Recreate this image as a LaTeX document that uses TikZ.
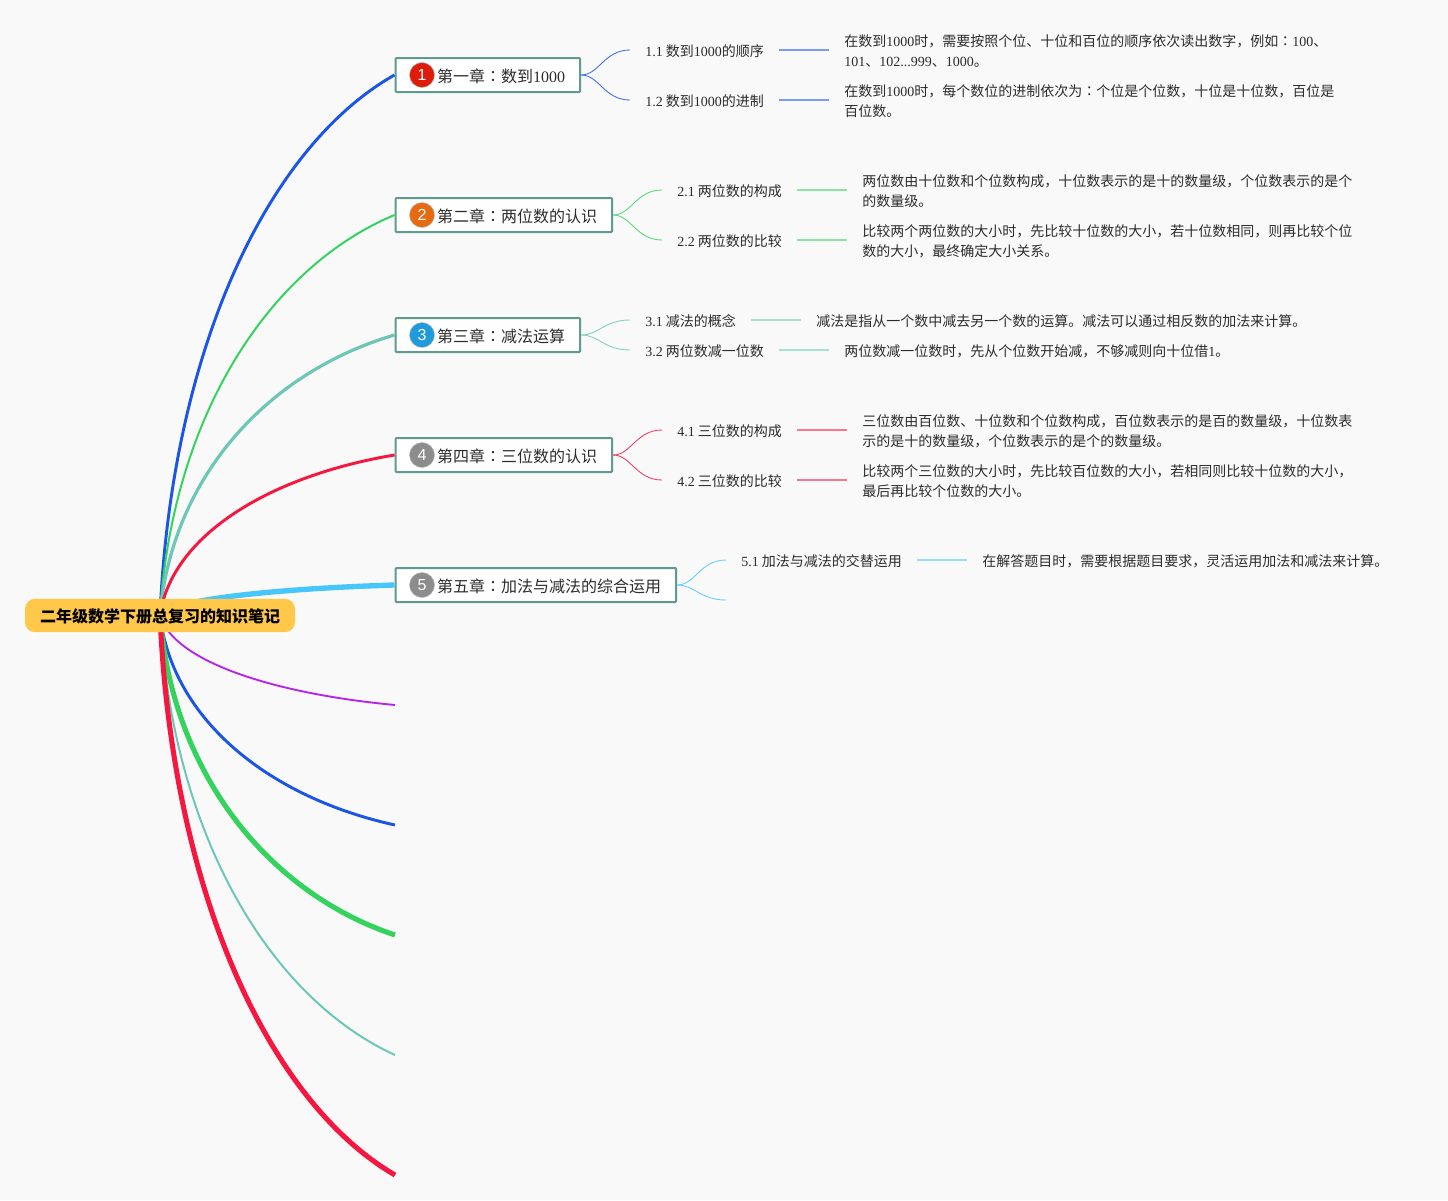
\documentclass[tikz,border=0pt]{standalone}
\usepackage{fontspec}
\usetikzlibrary{calc}
\setmainfont{Noto Sans CJK SC}
\newfontfamily\latfont{Liberation Serif}
\newfontfamily\badgefont{Liberation Sans}
\newfontfamily\tcfont{Noto Sans CJK TC}
\newcommand{\lat}[1]{{\latfont #1}}
\newcommand{\cln}{{\tcfont ：}}
\definecolor{paper}{HTML}{F9F9FA}
\definecolor{rootfill}{HTML}{FFC84A}
\definecolor{boxline}{HTML}{5F9A8E}
\definecolor{inkc}{HTML}{2C2C2C}
\definecolor{bblue}{HTML}{1B55E8}
\definecolor{bgreen}{HTML}{33D35E}
\definecolor{bteal}{HTML}{6CC7B7}
\definecolor{bred}{HTML}{F5173F}
\definecolor{bsky}{HTML}{47C6FB}
\definecolor{bpurple}{HTML}{B524EC}
\definecolor{bdgred}{HTML}{DD1C0A}
\definecolor{bdgorange}{HTML}{E56A12}
\definecolor{bdgblue}{HTML}{1F9BDD}
\definecolor{bdggray}{HTML}{8C8C8C}
\tikzset{
  rootbox/.style={fill=rootfill,rounded corners=7.5pt,minimum width=202.5pt,minimum height=25pt,inner sep=0pt,text height=11.5pt,text depth=1pt,font=\fontsize{12}{14}\selectfont\bfseries},
  chapbox/.style={draw=boxline,line width=1.5pt,fill=white,rounded corners=.8pt,anchor=west,inner xsep=11.25pt,inner ysep=0pt,minimum height=25.5pt,text height=11.5pt,text depth=1pt,text=inkc,font=\fontsize{12}{14}\selectfont},
  badge/.style={circle,draw=white!75!black,line width=.4pt,minimum size=18.8pt,inner sep=0pt,text=white,font=\badgefont\fontsize{12}{14}\selectfont},
  leaftext/.style={anchor=west,inner xsep=11.25pt,inner ysep=1pt,text=inkc,font=\fontsize{10.5}{15}\selectfont,align=left},
}
% rama principal: destino, y, color, grosor
\newcommand{\limb}[4]{\draw[#3,line width=#4] (root) .. controls (172,{615+0.5*(#2-615)}) and (270,{615+0.87*(#2-615)}) .. (#1);}
% capitulo: nombre, y, numero, color, texto
\newcommand{\chap}[5]{
  \node[chapbox] (#1) at (394.5,#2) {\hspace{20pt}#5};
  \node[badge,fill=#4] (b#1) at (422,#2) {#3};
}
% hoja: capitulo, nombre, x, y, color, etiqueta, x del texto, texto
\newcommand{\leaf}[8]{
  \node[leaftext,text height=10.4pt,text depth=1pt] (#2) at (#3,#4) {#6};
  \node[leaftext,yshift=-.75pt] (d#2) at (#7,#4) {#8};
  \draw[#5!85!white,line width=.65pt] (#1.east) .. controls +(18,0) and ($(#2.west)+(-26,0)$) .. (#2.west);
  \draw[#5!58!white,line width=1.1pt] (#2.east) -- (#2.east -| d#2.west);
}

\begin{document}
\begin{tikzpicture}[x=.75pt,y=-.75pt]
  \fill[paper] (0,0) rectangle (1448,1200);
  \useasboundingbox (0,0) rectangle (1448,1200);

  % extremos libres
  \coordinate (e6) at (395,705);
  \coordinate (e7) at (395,825);
  \coordinate (e8) at (395,935);
  \coordinate (e9) at (395,1055);
  \coordinate (e10) at (395,1175);
  \coordinate (root) at (160,615);

  % capitulos
  \chap{c1}{75}{1}{bdgred}{第一章\cln 数到\lat{1000}}
  \chap{c2}{215}{2}{bdgorange}{第二章\cln 两位数的认识}
  \chap{c3}{335}{3}{bdgblue}{第三章\cln 减法运算}
  \chap{c4}{455}{4}{bdggray}{第四章\cln 三位数的认识}
  \chap{c5}{585}{5}{bdggray}{第五章\cln 加法与减法的综合运用}

  % ramas principales
  \limb{c1.west}{75}{bblue}{2.2pt}
  \limb{c2.west}{215}{bgreen}{1.5pt}
  \limb{c3.west}{335}{bteal}{2.4pt}
  \limb{c4.west}{455}{bred}{2.2pt}
  \limb{c5.west}{585}{bsky}{4pt}
  \limb{e6}{705}{bpurple}{1.4pt}
  \limb{e7}{825}{bblue}{2.2pt}
  \limb{e8}{935}{bgreen}{3.8pt}
  \limb{e9}{1055}{bteal}{1.5pt}
  \limb{e10}{1175}{bred}{3.8pt}

  \node[rootbox] (rootnode) at (160,615.5) {二年级数学下册总复习的知识笔记};

  % hojas
  \leaf{c1}{s11}{630}{50}{bblue}{\lat{1.1} 数到\lat{1000}的顺序}{829}{在数到\lat{1000}时，需要按照个位、十位和百位的顺序依次读出数字，例如\cln\lat{100}、\\\lat{101}、\lat{102...999}、\lat{1000}。}
  \leaf{c1}{s12}{630}{100}{bblue}{\lat{1.2} 数到\lat{1000}的进制}{829}{在数到\lat{1000}时，每个数位的进制依次为\cln 个位是个位数，十位是十位数，百位是\\百位数。}
  \leaf{c2}{s21}{662}{190}{bgreen}{\lat{2.1} 两位数的构成}{847}{两位数由十位数和个位数构成，十位数表示的是十的数量级，个位数表示的是个\\的数量级。}
  \leaf{c2}{s22}{662}{240}{bgreen}{\lat{2.2} 两位数的比较}{847}{比较两个两位数的大小时，先比较十位数的大小，若十位数相同，则再比较个位\\数的大小，最终确定大小关系。}
  \leaf{c3}{s31}{630}{320}{bteal}{\lat{3.1} 减法的概念}{801}{减法是指从一个数中减去另一个数的运算。减法可以通过相反数的加法来计算。}
  \leaf{c3}{s32}{630}{350}{bteal}{\lat{3.2} 两位数减一位数}{829}{两位数减一位数时，先从个位数开始减，不够减则向十位借\lat{1}。}
  \leaf{c4}{s41}{662}{430}{bred}{\lat{4.1} 三位数的构成}{847}{三位数由百位数、十位数和个位数构成，百位数表示的是百的数量级，十位数表\\示的是十的数量级，个位数表示的是个的数量级。}
  \leaf{c4}{s42}{662}{480}{bred}{\lat{4.2} 三位数的比较}{847}{比较两个三位数的大小时，先比较百位数的大小，若相同则比较十位数的大小，\\最后再比较个位数的大小。}
  \leaf{c5}{s51}{726}{560}{bsky}{\lat{5.1} 加法与减法的交替运用}{967}{在解答题目时，需要根据题目要求，灵活运用加法和减法来计算。}
  \coordinate (s52) at (726,600);
  \draw[bsky!85!white,line width=.65pt] (c5.east) .. controls +(18,0) and ($(s52)+(-26,0)$) .. (s52);
\end{tikzpicture}
\end{document}
